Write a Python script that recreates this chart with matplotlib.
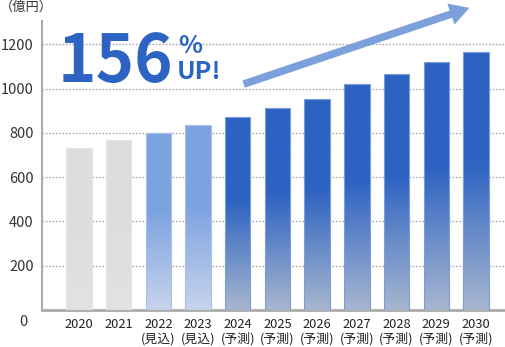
import numpy as np
import matplotlib
matplotlib.use("Agg")
import matplotlib.pyplot as plt
from matplotlib.colors import LinearSegmentedColormap
from matplotlib.patches import FancyArrowPatch

plt.rcParams['font.family'] = ['Noto Sans CJK JP', 'DejaVu Sans']

# data
years = ["2020", "2021", "2022", "2023", "2024", "2025", "2026", "2027", "2028", "2029", "2030"]
notes = ["", "", "(見込)", "(見込)", "(予測)", "(予測)", "(予測)", "(予測)", "(予測)", "(予測)", "(予測)"]
values = [731, 767, 799, 835, 871, 912, 952, 1020, 1065, 1120, 1165]
kinds = ["actual", "actual", "estimate", "estimate", "forecast", "forecast",
         "forecast", "forecast", "forecast", "forecast", "forecast"]
y_ticks = [200, 400, 600, 800, 1000, 1200]

# colours: (top, bottom)
palette = {
    "actual": ("#dddddd", "#e2e2e2"),
    "estimate": ("#7ca2e0", "#c6d3ec"),
    "forecast": ("#2d63c2", "#a7b6cf"),
}
edges = {"actual": "#e6e6e6", "estimate": "#a9c1ea", "forecast": "#7c9ddb"}

fig = plt.figure(figsize=(5.06, 3.47), dpi=100)
ax = fig.add_axes([0.083, 0.1066, 0.917, 0.833])

x = np.arange(len(years))
bar_w = 0.64
bars = ax.bar(x, values, width=bar_w, color="none", edgecolor="none", zorder=3)

# gradient fill for each bar (solid on top, fading over lower part)
for rect, val, kind in zip(bars, values, kinds):
    top, bottom = palette[kind]
    cmap = LinearSegmentedColormap.from_list(kind, [bottom, top, top],)
    grad = np.linspace(0, 1, 200).reshape(-1, 1)
    frac = 0.57
    grad = np.clip(grad / frac, 0, 1) * 0.5
    x0 = rect.get_x()
    img = ax.imshow(grad, cmap=cmap, vmin=0, vmax=1, origin="lower", aspect="auto",
                    extent=[x0, x0 + bar_w, 0, val], zorder=3, interpolation="bilinear")
    img.set_clip_path(rect)
    rect.set_edgecolor(edges[kind])
    rect.set_linewidth(0.8)
    rect.set_zorder(4)

ax.set_xlim(-0.932, 10.756)
ax.set_ylim(0, 1305)

# grid
ax.set_yticks(y_ticks)
ax.yaxis.grid(True, linestyle=(0, (1.2, 1.2)), color="#aaaaaa", linewidth=1.0, zorder=1)
ax.set_axisbelow(True)

ax.set_xticks(x)
ax.set_xticklabels([y + ("\n" + n if n else "") for y, n in zip(years, notes)],
                   fontsize=9.3, color="#222222", linespacing=1.1, va="top")
ax.tick_params(axis="x", length=0, pad=6)
ax.tick_params(axis="y", length=0, pad=6, labelsize=10.5, labelcolor="#333333")

for s in ["top", "right"]:
    ax.spines[s].set_visible(False)
ax.spines["left"].set_color("#aaaaaa")
ax.spines["left"].set_linewidth(1.5)
ax.spines["bottom"].set_color("#aaaaaa")
ax.spines["bottom"].set_linewidth(2)

# zero label sits lower than the others
fig.text(23 / 506, 1 - 322 / 347, "0", fontsize=10.5, color="#333333", ha="center", va="center")

# unit
fig.text(0 / 506, 1 - 7 / 347, "（億円）", fontsize=9.5, color="#333333", ha="left", va="center")

# headline
blue = "#2d63c2"
fig.text(58 / 506, 1 - 82 / 347, "156", fontsize=47, fontweight="bold", color=blue,
         ha="left", va="baseline")
fig.text(190 / 506, 1 - 53 / 347, "%", fontsize=18, fontweight="bold", color=blue,
         ha="center", va="baseline")
fig.text(177 / 506, 1 - 79 / 347, "UP!", fontsize=18, fontweight="bold", color=blue,
         ha="left", va="baseline")

# arrow
arrow = FancyArrowPatch((241 / 506, 1 - 85 / 347), (472 / 506, 1 - 7 / 347),
                        transform=fig.transFigure,
                        arrowstyle="simple,head_width=16,head_length=14,tail_width=5.5",
                        mutation_scale=1, color="#7ba0dc", lw=0, zorder=10)
fig.patches.append(arrow)

fig.savefig("out.png", dpi=100)
